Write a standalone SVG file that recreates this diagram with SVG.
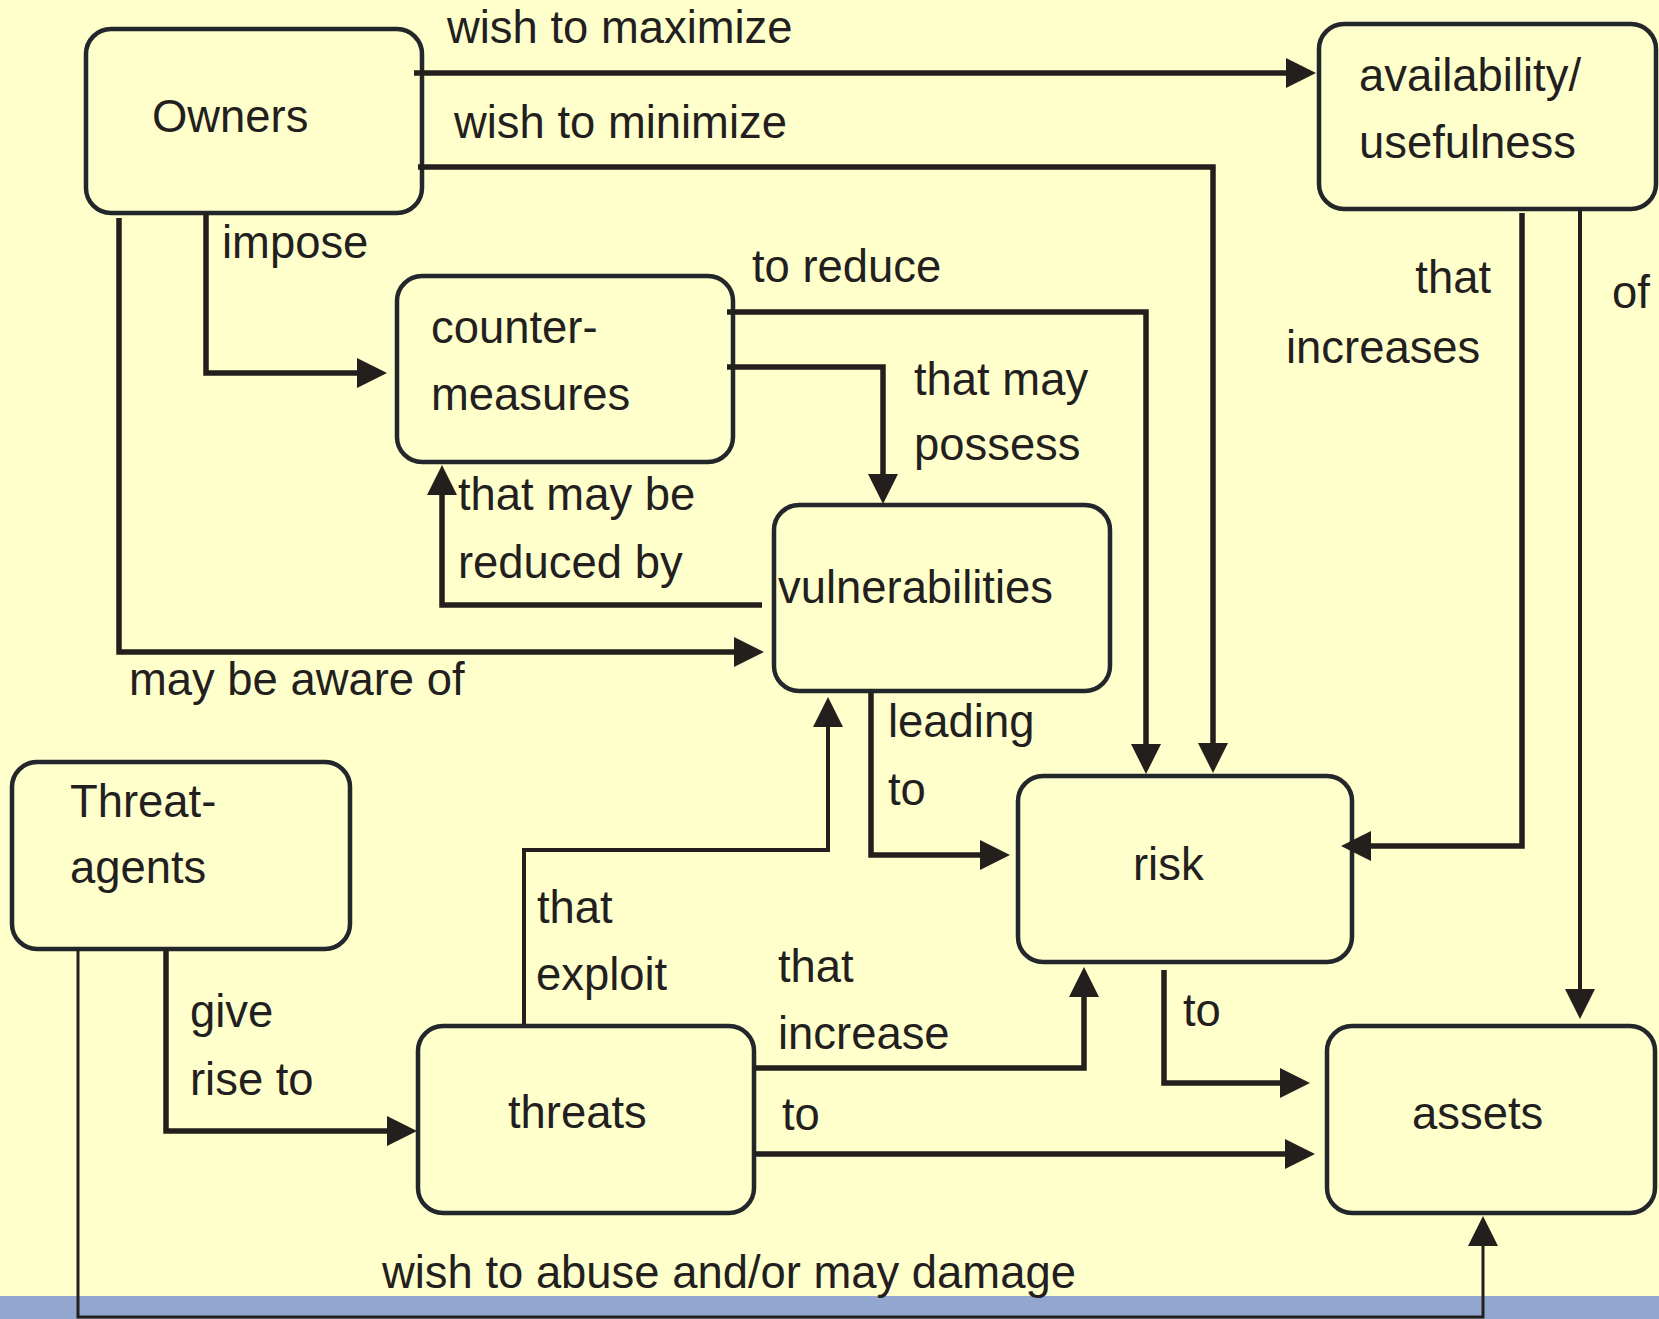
<svg xmlns="http://www.w3.org/2000/svg" width="1659" height="1319" viewBox="0 0 1659 1319">
<style>
.box{fill:#FFFFCC;stroke:#23272B;stroke-width:4.5}
.t{font-family:"Liberation Sans",Arial,sans-serif;font-size:45.4px;fill:#231F20}
.c{fill:none;stroke:#231F1C;stroke-width:5.5;marker-end:url(#ah)}
.c4{stroke-width:4}
.thin{stroke-width:3}
</style>
<defs>
<marker id="ah" markerUnits="userSpaceOnUse" markerWidth="30" markerHeight="30" refX="0" refY="15" orient="auto" viewBox="0 0 30 30">
<path d="M0,0 L30,15 L0,30 Z" fill="#231F1C"/>
</marker>
</defs>
<rect x="0" y="0" width="1659" height="1319" fill="#FFFFCC"/>
<rect x="0" y="1296" width="1659" height="23" fill="#92A6CF"/>

<g id="owners"><rect class="box" x="86" y="29" width="336" height="184" rx="25"/><text class="t" x="152" y="132">Owners</text></g>
<g id="availability"><rect class="box" x="1319" y="24" width="337" height="185" rx="25"/><text class="t" x="1359" y="91">availability/</text><text class="t" x="1359" y="158">usefulness</text></g>
<g id="countermeasures"><rect class="box" x="397" y="276" width="336" height="186" rx="25"/><text class="t" x="431" y="343">counter-</text><text class="t" x="431" y="410">measures</text></g>
<g id="vulnerabilities"><rect class="box" x="774" y="505" width="336" height="186" rx="25"/><text class="t" x="778" y="603">vulnerabilities</text></g>
<g id="risk"><rect class="box" x="1018" y="776" width="334" height="186" rx="25"/><text class="t" x="1133" y="880">risk</text></g>
<g id="threat-agents"><rect class="box" x="12" y="762" width="338" height="187" rx="25"/><text class="t" x="70" y="817">Threat-</text><text class="t" x="70" y="883">agents</text></g>
<g id="threats"><rect class="box" x="418" y="1026" width="336" height="187" rx="25"/><text class="t" x="508" y="1128">threats</text></g>
<g id="assets"><rect class="box" x="1327" y="1026" width="328" height="187" rx="25"/><text class="t" x="1412" y="1129">assets</text></g>

<g id="connectors">
<path class="c" d="M414,73 H1286"/>
<path class="c" d="M418,167 H1213 V743"/>
<path class="c" d="M206,213 V373 H357"/>
<path class="c" d="M119,218 V652 H734"/>
<path class="c" d="M727,312 H1146 V744"/>
<path class="c" d="M727,367 H883 V474"/>
<path class="c" d="M762,605 H442 V495"/>
<path class="c" d="M871,693 V855 H980"/>
<path class="c c4" d="M524,1025 V850 H828 V727"/>
<path class="c" d="M1522,213 V846 H1371"/>
<path class="c c4" d="M1580,208 V989"/>
<path class="c" d="M166,949 V1131 H387"/>
<path class="c" d="M754,1068 H1084 V997"/>
<path class="c" d="M754,1154 H1285"/>
<path class="c" d="M1164,970 V1083 H1280"/>
<path class="c thin" d="M78,949 V1317 H1483 V1246"/>
</g>

<g id="labels">
<text class="t" x="447" y="43">wish to maximize</text>
<text class="t" x="454" y="138">wish to minimize</text>
<text class="t" x="222" y="258">impose</text>
<text class="t" x="752" y="282">to reduce</text>
<text class="t" x="914" y="395">that may</text>
<text class="t" x="914" y="460">possess</text>
<text class="t" x="1491" y="293" text-anchor="end">that</text>
<text class="t" x="1286" y="363">increases</text>
<text class="t" x="1612" y="308">of</text>
<text class="t" x="458" y="510">that may be</text>
<text class="t" x="458" y="578">reduced by</text>
<text class="t" x="129" y="695">may be aware of</text>
<text class="t" x="888" y="737">leading</text>
<text class="t" x="888" y="805">to</text>
<text class="t" x="537" y="923">that</text>
<text class="t" x="536" y="990">exploit</text>
<text class="t" x="778" y="982">that</text>
<text class="t" x="778" y="1049">increase</text>
<text class="t" x="190" y="1027">give</text>
<text class="t" x="190" y="1095">rise to</text>
<text class="t" x="782" y="1130">to</text>
<text class="t" x="1183" y="1026">to</text>
<text class="t" x="382" y="1288">wish to abuse and/or may damage</text>
</g>
</svg>
